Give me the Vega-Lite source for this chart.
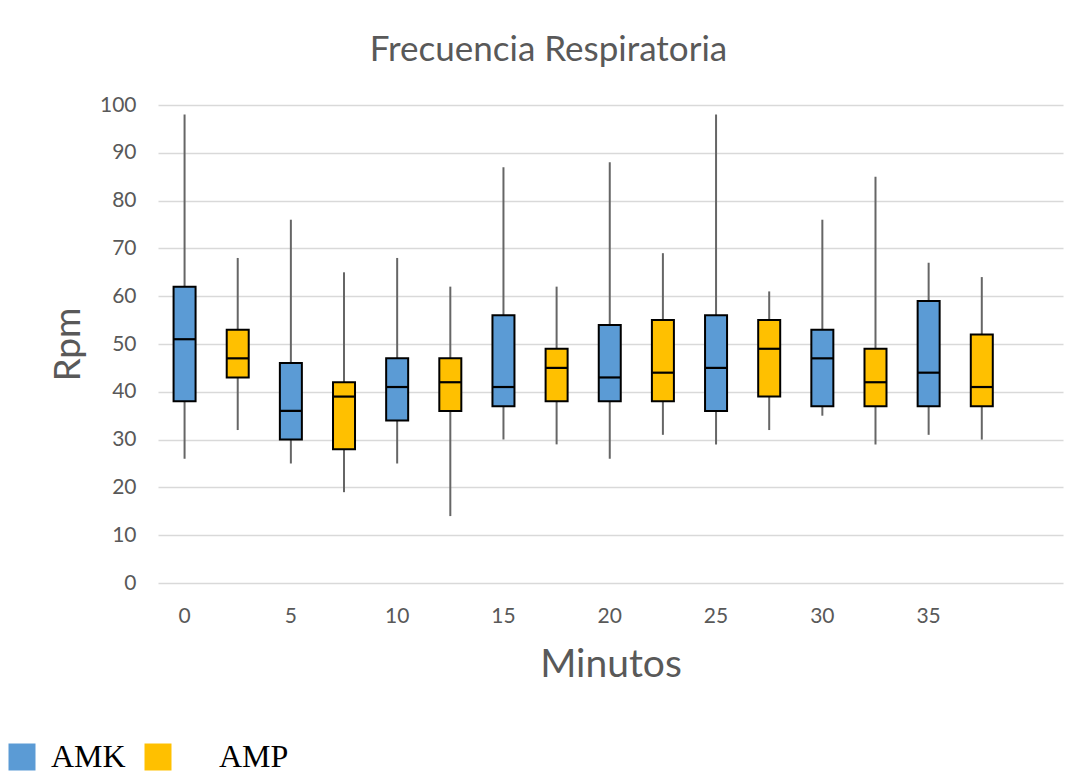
{
  "$schema": "https://vega.github.io/schema/vega-lite/v6.json",
  "width": 905,
  "height": 478,
  "autosize": {"type": "none"},
  "padding": {"left": 158, "top": 105, "right": 23, "bottom": 191},
  "background": "white",
  "config": {"view": {"stroke": null}},
  "title": {
    "text": "Frecuencia Respiratoria",
    "font": "Lato",
    "fontSize": 35,
    "fontWeight": "normal",
    "color": "#595959",
    "anchor": "middle",
    "dx": -62,
    "baseline": "alphabetic",
    "offset": -2
  },
  "data": {
    "values": [
      {"minuto": 0, "grupo": "AMK", "min": 26, "q1": 38, "median": 51, "q3": 62, "max": 98},
      {"minuto": 5, "grupo": "AMK", "min": 25, "q1": 30, "median": 36, "q3": 46, "max": 76},
      {"minuto": 10, "grupo": "AMK", "min": 25, "q1": 34, "median": 41, "q3": 47, "max": 68},
      {"minuto": 15, "grupo": "AMK", "min": 30, "q1": 37, "median": 41, "q3": 56, "max": 87},
      {"minuto": 20, "grupo": "AMK", "min": 26, "q1": 38, "median": 43, "q3": 54, "max": 88},
      {"minuto": 25, "grupo": "AMK", "min": 29, "q1": 36, "median": 45, "q3": 56, "max": 98},
      {"minuto": 30, "grupo": "AMK", "min": 35, "q1": 37, "median": 47, "q3": 53, "max": 76},
      {"minuto": 35, "grupo": "AMK", "min": 31, "q1": 37, "median": 44, "q3": 59, "max": 67},
      {"minuto": 0, "grupo": "AMP", "min": 32, "q1": 43, "median": 47, "q3": 53, "max": 68},
      {"minuto": 5, "grupo": "AMP", "min": 19, "q1": 28, "median": 39, "q3": 42, "max": 65},
      {"minuto": 10, "grupo": "AMP", "min": 14, "q1": 36, "median": 42, "q3": 47, "max": 62},
      {"minuto": 15, "grupo": "AMP", "min": 29, "q1": 38, "median": 45, "q3": 49, "max": 62},
      {"minuto": 20, "grupo": "AMP", "min": 31, "q1": 38, "median": 44, "q3": 55, "max": 69},
      {"minuto": 25, "grupo": "AMP", "min": 32, "q1": 39, "median": 49, "q3": 55, "max": 61},
      {"minuto": 30, "grupo": "AMP", "min": 29, "q1": 37, "median": 42, "q3": 49, "max": 85},
      {"minuto": 35, "grupo": "AMP", "min": 30, "q1": 37, "median": 41, "q3": 52, "max": 64}
    ]
  },
  "encoding": {
    "x": {
      "field": "minuto",
      "type": "ordinal",
      "scale": {"domain": [0, 5, 10, 15, 20, 25, 30, 35], "paddingInner": 0, "paddingOuter": 0.257, "align": 0},
      "axis": {
        "title": "Minutos",
        "labelAngle": 0,
        "labelOffset": -26.6,
        "domain": false,
        "ticks": false,
        "labelFont": "Lato",
        "labelFontSize": 21,
        "labelColor": "#595959",
        "labelPadding": 22,
        "titleFont": "Lato",
        "titleFontSize": 39,
        "titleFontWeight": "normal",
        "titleColor": "#595959",
        "titlePadding": 19
      }
    },
    "xOffset": {
      "field": "grupo",
      "type": "nominal",
      "scale": {"domain": ["AMK", "AMP"], "paddingInner": 0.586, "paddingOuter": 0.293}
    }
  },
  "layer": [
    {
      "mark": {"type": "rule", "color": "#666666", "strokeWidth": 2},
      "encoding": {
        "y": {
          "field": "min",
          "type": "quantitative",
          "scale": {"domain": [0, 100], "nice": false},
          "axis": {
            "title": "Rpm",
            "values": [0, 10, 20, 30, 40, 50, 60, 70, 80, 90, 100],
            "domain": false,
            "ticks": false,
            "grid": true,
            "gridColor": "#D9D9D9",
            "gridWidth": 1.6,
            "labelFont": "Lato",
            "labelFontSize": 21,
            "labelColor": "#595959",
            "labelPadding": 22,
            "titleFont": "Lato",
            "titleFontSize": 37,
            "titleFontWeight": "normal",
            "titleColor": "#595959",
            "titlePadding": 12
          }
        },
        "y2": {"field": "max"}
      }
    },
    {
      "mark": {"type": "bar", "stroke": "black", "strokeWidth": 2},
      "encoding": {
        "y": {"field": "q1", "type": "quantitative"},
        "y2": {"field": "q3"},
        "fill": {
          "field": "grupo",
          "type": "nominal",
          "scale": {"domain": ["AMK", "AMP"], "range": ["#5B9BD5", "#FFC000"]},
          "legend": {
            "orient": "none",
            "legendX": -152,
            "legendY": 636,
            "direction": "horizontal",
            "title": null,
            "padding": 0,
            "symbolType": "square",
            "symbolSize": 729,
            "symbolStrokeWidth": 0,
            "symbolOpacity": 1,
            "labelFont": "Liberation Serif",
            "labelFontSize": 32,
            "labelColor": "black",
            "labelOffset": 13,
            "columnPadding": 16,
            "labelExpr": "datum.value == 'AMP' ? '\u200B\u2003AMP' : datum.label"
          }
        }
      }
    },
    {
      "mark": {"type": "tick", "color": "black", "thickness": 2.2, "opacity": 1},
      "encoding": {
        "y": {"field": "median", "type": "quantitative"}
      }
    }
  ]
}
